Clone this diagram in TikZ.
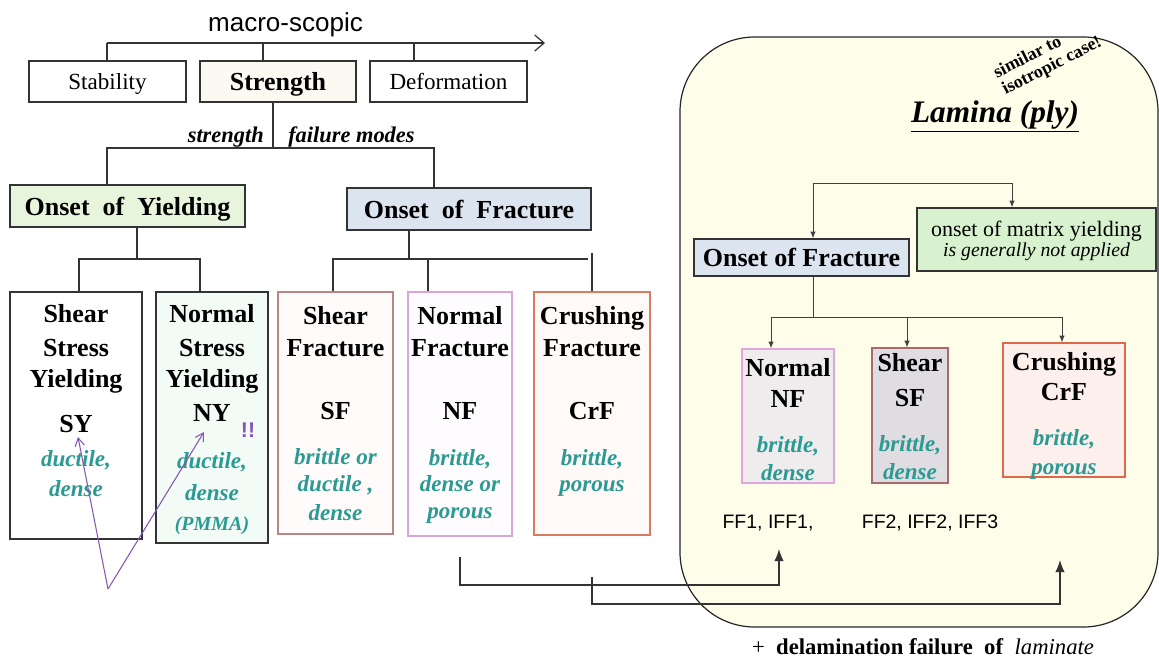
\documentclass[tikz,border=0pt]{standalone}
\usepackage{fontspec}
\setmainfont{Liberation Serif}
\newfontfamily\arialf{Liberation Sans}
\usetikzlibrary{arrows.meta,fit,calc}
\newcommand{\fsz}[2]{\fontsize{#1pt}{#2pt}\selectfont}
\definecolor{tealtx}{HTML}{2B9A92}
\definecolor{purp}{HTML}{8458B4}
\definecolor{yfill}{HTML}{E6F5DC}
\definecolor{bfill}{HTML}{DCE4EF}
\definecolor{lamfill}{HTML}{FDFDEA}
\definecolor{matfill}{HTML}{D8F2CF}
\begin{document}
\begin{tikzpicture}[x=0.75pt,y=-0.75pt,
  ln/.style={line width=0.9pt, draw=black!80},
  lnl/.style={line width=0.75pt, draw=black!75},
  bx/.style={draw=black!80, line width=0.9pt, inner sep=0pt},
  txs/.style 2 args={inner sep=0pt, text height=#1, text depth=#2},
  tb/.style={txs={15.6pt}{1.95pt}, font=\fsz{19.5}{22}\bfseries},
  tr/.style={txs={13.84pt}{1.73pt}, font=\fsz{17.3}{20}},
  ti/.style={txs={13.84pt}{1.73pt}, font=\fsz{17.3}{20}\bfseries\itshape, text=tealtx},
  tip/.style={-{Latex[length=9pt,width=7pt]}},
  stip/.style={-{Latex[length=5pt,width=4pt]}},
  parrow/.style={draw=purp, line width=0.8pt, -{Straight Barb[length=6pt,width=7pt]}},
]
\useasboundingbox (0,0) rectangle (1159,665);

% ---------- Lamina frame ----------
\node[draw=black!85, line width=0.9pt, fill=lamfill, rounded corners=56pt, inner sep=0pt,
      fit={(680,37) (1158,627)}] (lam) {};

% ---------- top level ----------
\node[txs={15.6pt}{1.95pt}, font=\arialf\fsz{19.5}{22}] (mac) at (285.5,22) {macro-scopic};
\coordinate (a0) at (107,43);
\coordinate (a1) at (545,43);
\draw[ln, -{Straight Barb[length=7pt,width=12pt]}] (a0) -- (a1);

\node[bx, fit={(29,61) (186,102)}] (stab) {};
\node[bx, fill={rgb,255:red,252;green,248;blue,242}, fit={(200,61) (356,102)}] (stre) {};
\node[bx, fit={(370,61) (527,102)}] (defo) {};
\node[tr] at (stab.center) {Stability};
\node[tb] at (stre.center) {Strength};
\node[tr] at (defo.center) {Deformation};

\draw[ln] (a0) -- (a0 |- stab.north);
\coordinate (t2) at (263,43); \draw[ln] (t2) -- (t2 |- stre.north);
\coordinate (t3) at (414,43); \draw[ln] (t3) -- (t3 |- defo.north);

\coordinate (sx) at (273,148);
\draw[ln] (sx |- stre.south) -- (sx);
\node[txs={13.44pt}{1.68pt}, anchor=east, font=\fsz{16.8}{19}\bfseries\itshape] (lstr) at (264,135) {strength};
\node[txs={13.44pt}{1.68pt}, anchor=west, font=\fsz{16.8}{19}\bfseries\itshape] (lfm) at (288,135) {failure modes};

% ---------- second level ----------
\node[bx, fill=yfill, fit={(10,185) (245,227)}] (oy) {};
\node[bx, fill=bfill, fit={(347,188) (591,230)}] (of) {};
\node[tb] at (oy.center) {Onset\hspace{0.5em}of\hspace{0.5em}Yielding};
\node[tb] at (of.center) {Onset\hspace{0.5em}of\hspace{0.5em}Fracture};

\coordinate (hl) at (107,148);
\coordinate (hr) at (434,148);
\draw[ln] (hl |- oy.north) -- (hl) -- (hr) -- (hr |- of.north);

% ---------- third level boxes ----------
\node[bx, fill=white, fit={(10,292) (142,539)}] (ssy) {};
\node[bx, fill={rgb,255:red,243;green,251;blue,246}, fit={(156,292) (268,543)}] (nsy) {};
\node[bx, draw={rgb,255:red,185;green,133;blue,133}, fill={rgb,255:red,255;green,251;blue,251}, fit={(278,292) (393,534)}] (sf) {};
\node[bx, draw={rgb,255:red,217;green,166;blue,220}, fill={rgb,255:red,255;green,252;blue,255}, fit={(408,292) (512,536)}] (nf) {};
\node[bx, draw={rgb,255:red,218;green,122;blue,96}, fill={rgb,255:red,255;green,250;blue,248}, fit={(534,292) (650,535)}] (crf) {};

\coordinate (yj) at (137,259);
\draw[ln] (yj |- oy.south) -- (yj);
\coordinate (yl) at (79,259);
\coordinate (yr) at (200,259);
\draw[ln] (yl |- ssy.north) -- (yl) -- (yr) -- (yr |- nsy.north);

\coordinate (fj) at (409,259);
\draw[ln] (fj |- of.south) -- (fj);
\coordinate (fl) at (333,259);
\coordinate (fr) at (588,259);
\draw[ln] (fl |- sf.north) -- (fl) -- (fr);
\coordinate (fm) at (428,259);
\draw[ln] (fm) -- (fm |- nf.north);
\coordinate (fc) at (592,253);
\draw[ln] (fc) -- (fc |- crf.north);

% texts SSY
\node[tb] at (76,313) {Shear};
\node[tb] at (76,347) {Stress};
\node[tb] at (76,378) {Yielding};
\node[tb] (sy) at (76,423) {SY};
\node[ti] at (76,458) {ductile,};
\node[ti] at (76,488) {dense};
% texts NSY
\node[tb] at (212,313) {Normal};
\node[tb] at (212,347) {Stress};
\node[tb] at (212,378) {Yielding};
\node[tb] (ny) at (212,412) {NY};
\node[ti] at (212,460) {ductile,};
\node[ti] at (212,492) {dense};
\node[txs={12pt}{1.5pt}, font=\fsz{15}{17}\bfseries\itshape, text=tealtx] at (212,523) {(PMMA)};
\node[txs={12.8pt}{1.6pt}, font=\arialf\fsz{16}{18}\bfseries, text=purp] (excl) at (248,430) {!!};
% texts SF
\node[tb] at (335.5,315) {Shear};
\node[tb] at (335.5,347) {Fracture};
\node[tb] at (335.5,410) {SF};
\node[ti] at (335.5,456) {brittle or};
\node[ti] at (335.5,483) {ductile ,};
\node[ti] at (335.5,512) {dense};
% texts NF
\node[tb] at (460,315) {Normal};
\node[tb] at (460,347) {Fracture};
\node[tb] at (460,410) {NF};
\node[ti] at (460,457) {brittle,};
\node[ti] at (460,483) {dense or};
\node[ti] at (460,510) {porous};
% texts CrF
\node[tb] at (592,315) {Crushing};
\node[tb] at (592,347) {Fracture};
\node[tb] at (592,410) {CrF};
\node[ti] at (592,457) {brittle,};
\node[ti] at (592,483) {porous};

% purple arrows
\coordinate (pv) at (108,589);
\coordinate (psy) at (78,437);
\coordinate (pny) at (204,432);
\draw[parrow] (pv) -- (psy);
\draw[parrow] (pv) -- (pny);

% ---------- Lamina contents ----------
\node[rotate=27, align=left, inner sep=0pt, font=\fsz{13.5}{14}\bfseries] (sim) at (1048,58) {similar to\\isotropic case!};
\node[inner sep=0pt, font=\fsz{23.5}{26}\bfseries\itshape] (lt) at (995,116) {\underline{Lamina (ply)}};

\node[bx, fill=bfill, fit={(694,239) (909,276)}] (ofl) {};
\node[tb] at (ofl.center) {Onset of Fracture};
\node[bx, fill=matfill, fit={(917,208) (1156,271)}] (mat) {};
\node[inner sep=0pt, align=center] at ([yshift=-1pt]mat.center)
  {\fsz{16.5}{20}onset of matrix yielding\\\fsz{14.8}{18}\itshape is generally not applied};

\coordinate (lj1) at (813,183);
\coordinate (lj2) at (1012,183);
\draw[lnl, stip] (lj2) -- (lj1) -- (lj1 |- ofl.north);
\draw[lnl, stip] (lj2) -- (lj2 |- mat.north);

\node[bx, draw={rgb,255:red,224;green,168;blue,218}, fill={rgb,255:red,239;green,236;blue,238}, fit={(742,349) (834,483)}] (nfl) {};
\node[bx, draw={rgb,255:red,168;green,106;blue,106}, fill={rgb,255:red,223;green,221;blue,225}, fit={(872,348) (948,483)}] (sfl) {};
\node[bx, draw={rgb,255:red,219;green,106;blue,72}, fill={rgb,255:red,252;green,239;blue,236}, fit={(1003,343) (1125,477)}] (crfl) {};

\coordinate (lk) at (813,317);
\draw[lnl] (lk |- ofl.south) -- (lk);
\coordinate (lkl) at (771,317);
\coordinate (lkm) at (907,317);
\coordinate (lkr) at (1062,317);
\draw[lnl] (lkl) -- (lkr);
\draw[lnl, stip] (lkl) -- (lkl |- nfl.north);
\draw[lnl, stip] (lkm) -- (lkm |- sfl.north);
\draw[lnl, stip] (lkr) -- (lkr |- crfl.north);

\node[tb] at (788,367) {Normal};
\node[tb] at (788,398) {NF};
\node[ti] at (788,444) {brittle,};
\node[ti] at (788,472) {dense};
\node[tb] at (910,362) {Shear};
\node[tb] at (910,397) {SF};
\node[ti] at (910,443) {brittle,};
\node[ti] at (910,471) {dense};
\node[tb] at (1064,361) {Crushing};
\node[tb] at (1064,391) {CrF};
\node[ti] at (1064,437) {brittle,};
\node[ti] at (1064,466) {porous};

\node[txs={11.68pt}{1.46pt}, font=\arialf\fsz{14.6}{16}] (ff1) at (768,522) {FF1, IFF1,};
\node[txs={11.68pt}{1.46pt}, font=\arialf\fsz{14.6}{16}] (ff2) at (930,522) {FF2, IFF2, IFF3};

% ---------- bottom connectors ----------
\coordinate (b1s) at (460,557);
\coordinate (b1c) at (779,585);
\coordinate (b1e) at (779,549);
\draw[ln, tip] (b1s) |- (b1c) -- (b1e);
\coordinate (b2s) at (592,577);
\coordinate (b2c) at (1060,604);
\coordinate (b2e) at (1060,560);
\draw[ln, tip] (b2s) |- (b2c) -- (b2e);

\node[txs={13.6pt}{1.7pt}, font=\fsz{17}{19}] (dela) at (923,647)
  {+\hspace{0.5em}\textbf{delamination failure\hspace{0.5em}of}\hspace{0.5em}\textit{laminate}};
\end{tikzpicture}
\end{document}
